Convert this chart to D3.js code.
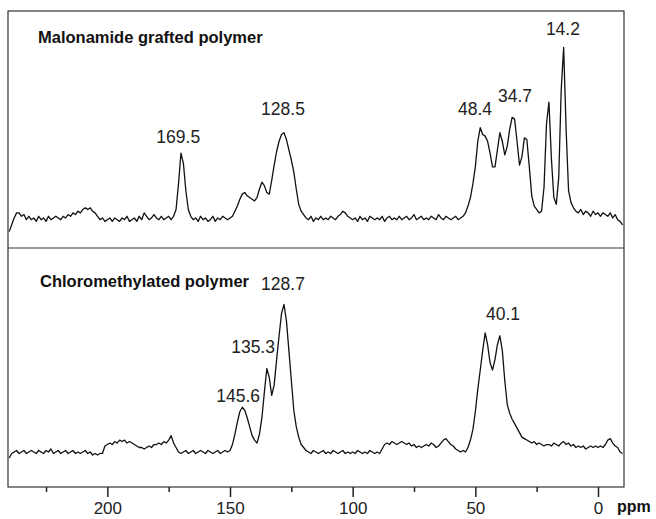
<!DOCTYPE html>
<html>
<head>
<meta charset="utf-8">
<script src="https://cdn.jsdelivr.net/npm/d3@7"></script>
<style>
  html, body { margin: 0; padding: 0; background: #fff; }
  svg { display: block; }
</style>
</head>
<body>
<svg id="chart" width="656" height="519"></svg>
<script>
// ---- Data ----
// Chemical shift grid: 240 ppm down to -10 ppm, 1 ppm steps
const ppmStart = 240;
const ppmStep = -1;

// Intensities (arbitrary units, tallest peak = 100) for each panel
const malonamideIntensity = [
  -8, -4, 0, 3, 3, 1, 2, -1, 1, -1,        // 240-231
  0, -2, 1, -1, 0, -2, 1, -1, 0, 1,        // 230-221
  0, -1, 1, 0, 2, 1, 3, 2, 4, 3,           // 220-211
  5, 6, 5, 6, 4, 3, 1, -1, 0, -2,          // 210-201
  -1, 0, -2, 0, -1, -2, 0, -1, 1, -2,      // 200-191
  -1, 0, -2, 1, -1, 3, 1, -1, 0, 2,        // 190-181
  0, -1, 1, -1, 0, 1, -1, 1, 5, 20,        // 180-171
  38, 32, 16, 5, 1, -1, 0, -2, 1, -1,      // 170-161
  0, -2, -1, 1, -2, 0, -1, 1, 0, -1,       // 160-151
  0, 1, 4, 7, 11, 14, 15, 13, 12, 11,      // 150-141
  10, 12, 17, 21, 19, 15, 14, 22, 31, 39,  // 140-131
  45, 49, 50, 46, 40, 34, 27, 17, 8, 4,    // 130-121
  2, 0, -1, 1, -2, 0, -1, 1, -1, 0,        // 120-111
  -1, 1, 0, -1, 1, 2, 4, 3, 1, 0,          // 110-101
  -1, 0, -2, 1, -1, 0, -2, 1, 0, -1,       // 100-91
  0, -1, 1, -2, 0, 1, -1, 0, -1, 1,        // 90-81
  -1, 0, 1, -1, 0, 2, -1, 0, 1, -1,        // 80-71
  0, -1, 1, 0, -1, 2, 0, -1, 1, 0,         // 70-61
  -1, 0, 1, -1, 0, 1, 3, 7, 12, 20,        // 60-51
  30, 45, 53, 49, 48, 45, 38, 30, 30, 40,  // 50-41
  50, 45, 37, 42, 52, 59, 58, 45, 31, 36,  // 40-31
  47, 46, 30, 13, 7, 5, 3, 4, 18, 55,      // 30-21
  68, 35, 12, 8, 24, 75, 100, 52, 16, 9,   // 20-11
  6, 4, 3, 5, 2, 4, 3, 1, 4, 2,            // 10-1
  3, 1, 3, 2, 1, 3, 0, 2, -1, -2, -4       // 0 to -10
];

const chloromethylIntensity = [
  -4, -1, 0, 1, -1, 0, 1, -1, 0, 1,        // 240-231
  0, -1, 1, 0, -1, 1, 0, 2, -1, 0,         // 230-221
  1, -1, 0, 1, -1, 0, 1, -1, 0, -1,        // 220-211
  0, 1, -1, 0, -2, -1, -2, -1, -1, 4,      // 210-201
  5, 6, 5, 7, 6, 8, 7, 8, 6, 7,            // 200-191
  6, 5, 4, 3, 3, 2, 3, 4, 3, 5,            // 190-181
  5, 6, 5, 7, 6, 8, 11, 6, 3, 0,           // 180-171
  -1, 0, 1, -1, 0, 1, -1, 0, 1, 0,         // 170-161
  -1, 1, 0, -1, 0, 1, -1, 0, 1, 0,         // 160-151
  1, 5, 12, 20, 27, 30, 28, 23, 17, 11,    // 150-141
  8, 6, 12, 23, 40, 56, 50, 38, 45, 62,    // 140-131
  78, 93, 99, 88, 68, 48, 28, 17, 10, 5,   // 130-121
  3, 1, 0, -1, 1, 0, -1, 0, 1, -1,         // 120-111
  0, -1, 1, 0, -1, 0, 1, -1, 0, -1,        // 110-101
  0, -1, 1, 0, -1, 0, -1, 1, 0, -1,        // 100-91
  0, -1, 2, 5, 6, 5, 7, 6, 5, 6,           // 90-81
  7, 6, 5, 6, 4, 5, 3, 4, 3, 4,            // 80-71
  5, 4, 6, 5, 3, 4, 6, 8, 9, 7,            // 70-61
  5, 4, 2, 1, 0, 1, 0, 3, 8, 15,           // 60-51
  27, 42, 55, 68, 80, 72, 60, 55, 62, 72,  // 50-41
  78, 68, 48, 32, 26, 22, 19, 16, 13, 10,  // 40-31
  9, 8, 7, 6, 7, 5, 6, 5, 4, 5,            // 30-21
  5, 4, 6, 5, 4, 6, 7, 5, 6, 4,            // 20-11
  5, 3, 4, 3, 4, 2, 3, 4, 3, 4,            // 10-1
  3, 4, 3, 5, 8, 9, 6, 4, 3, 0, -1         // 0 to -10
];

const panelTitles = ["Malonamide grafted polymer", "Chloromethylated polymer"];

// Peak annotations: text, label centre (ppm), label baseline (intensity units)
const topPeakText = ["169.5", "128.5", "48.4", "34.7", "14.2"];
const topPeakPpm = [171.1, 128.4, 50.1, 33.8, 14.3];
const topPeakLevel = [44, 60.4, 60.4, 68, 107.3];

const bottomPeakText = ["128.7", "135.3", "145.6", "40.1"];
const bottomPeakPpm = [128.4, 140.6, 146.7, 38.7];
const bottomPeakLevel = [108.7, 66.4, 33.6, 88.6];

const majorTicks = [200, 150, 100, 50, 0];
const minorTicks = [225, 175, 125, 75, 25];
const axisLabel = "ppm";

// ---- Layout ----
const frame = { left: 8, right: 624, top: 11, bottom: 487 };
const divider = 248;

const svg = d3.select("#chart");
const FONT = "'Liberation Sans', Arial, Helvetica, sans-serif";

const x = d3.scaleLinear().domain([240.5, -10.6]).range([frame.left, frame.right]);

const yTop = d3.scaleLinear().domain([-17.6, 121.4]).range([divider, frame.top]);
const yBottom = d3.scaleLinear().domain([-23.5, 136.9]).range([frame.bottom, divider]);

function toSeries(values) {
  return values.map((v, i) => ({ ppm: ppmStart + i * ppmStep, v }));
}

// clip paths
const defs = svg.append("defs");
defs.append("clipPath").attr("id", "clipTop").append("rect")
  .attr("x", frame.left).attr("y", frame.top)
  .attr("width", frame.right - frame.left).attr("height", divider - frame.top);
defs.append("clipPath").attr("id", "clipBottom").append("rect")
  .attr("x", frame.left).attr("y", divider)
  .attr("width", frame.right - frame.left).attr("height", frame.bottom - divider);

function drawPanel(values, y, clipId, title, titleX, titleY, pText, pPpm, pLevel) {
  const line = d3.line().x(d => x(d.ppm)).y(d => y(d.v));
  svg.append("path")
    .datum(toSeries(values))
    .attr("clip-path", `url(#${clipId})`)
    .attr("fill", "none")
    .attr("stroke", "#111")
    .attr("stroke-width", 1.3)
    .attr("stroke-linejoin", "round")
    .attr("d", line);

  svg.append("text")
    .attr("x", titleX).attr("y", titleY)
    .attr("font-family", FONT).attr("font-size", 16.5).attr("font-weight", "bold")
    .attr("fill", "#111")
    .text(title);

  svg.append("g").selectAll("text")
    .data(pText.map((t, i) => ({ t, ppm: pPpm[i], lv: pLevel[i] })))
    .join("text")
    .attr("x", d => x(d.ppm))
    .attr("y", d => y(d.lv))
    .attr("text-anchor", "middle")
    .attr("font-family", FONT).attr("font-size", 17.5)
    .attr("fill", "#222")
    .text(d => d.t);
}

drawPanel(malonamideIntensity, yTop, "clipTop", panelTitles[0], 38, 43,
  topPeakText, topPeakPpm, topPeakLevel);
drawPanel(chloromethylIntensity, yBottom, "clipBottom", panelTitles[1], 40, 287,
  bottomPeakText, bottomPeakPpm, bottomPeakLevel);

// frame and divider
svg.append("rect")
  .attr("x", frame.left).attr("y", frame.top)
  .attr("width", frame.right - frame.left).attr("height", frame.bottom - frame.top)
  .attr("fill", "none").attr("stroke", "#333").attr("stroke-width", 1.2);
svg.append("line")
  .attr("x1", frame.left).attr("x2", frame.right)
  .attr("y1", divider).attr("y2", divider)
  .attr("stroke", "#333").attr("stroke-width", 1.2);

// axis
const axis = svg.append("g")
  .attr("transform", `translate(0,${frame.bottom})`)
  .call(d3.axisBottom(x).tickValues(majorTicks).tickSize(10).tickSizeOuter(0));
axis.select(".domain").remove();
axis.selectAll(".tick line").attr("stroke", "#222").attr("stroke-width", 1.5);
axis.selectAll(".tick text")
  .attr("y", 27).attr("dy", 0)
  .attr("font-family", FONT).attr("font-size", 17).attr("fill", "#222");

const minor = svg.append("g")
  .attr("transform", `translate(0,${frame.bottom})`)
  .call(d3.axisBottom(x).tickValues(minorTicks).tickSize(5).tickFormat(""));
minor.select(".domain").remove();
minor.selectAll(".tick line").attr("stroke", "#222").attr("stroke-width", 1.5);

svg.append("text")
  .attr("x", 617).attr("y", 512)
  .attr("font-family", FONT).attr("font-size", 16).attr("font-weight", "bold")
  .attr("fill", "#111")
  .text(axisLabel);
</script>
</body>
</html>
